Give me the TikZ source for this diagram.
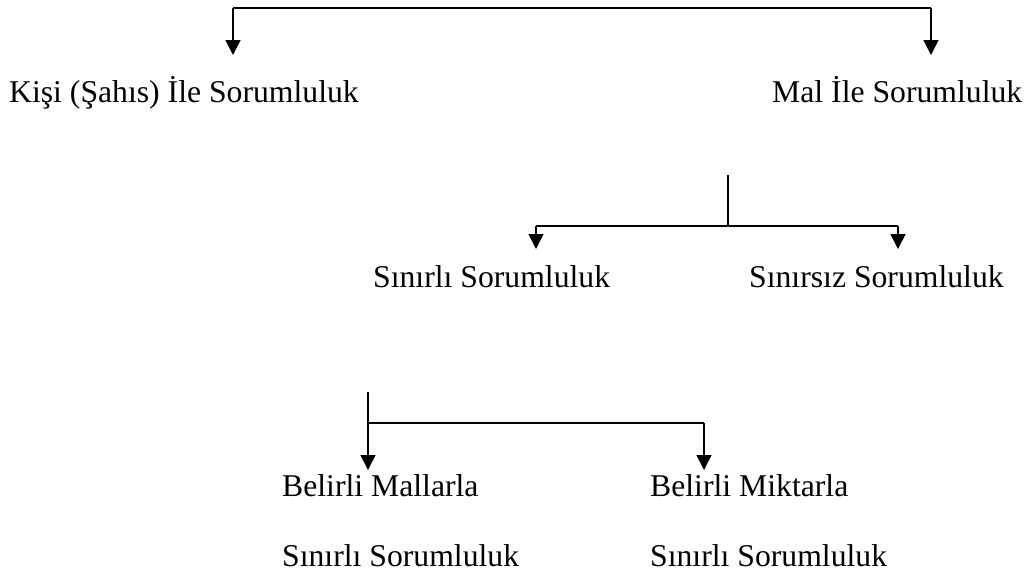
\documentclass[tikz,border=0pt]{standalone}
\usepackage{fontspec}
\setmainfont{Liberation Serif}
\usetikzlibrary{arrows.meta,calc}
\begin{document}
\begin{tikzpicture}[x=1pt,y=-1pt,
  lbl/.style={anchor=base west,inner sep=0pt,font=\fontsize{31.7}{38}\selectfont},
  ln/.style={line width=1.5pt},
  arr/.style={ln,-{Triangle[length=15pt,width=15pt]}}]
\useasboundingbox (0,0) rectangle (1033,579);
% text nodes
\node[lbl] (kisi) at (9,102) {Kişi (Şahıs) İle Sorumluluk};
\node[lbl] (mal) at (772,102) {Mal İle Sorumluluk};
\node[lbl] (sinirli) at (373,287) {Sınırlı Sorumluluk};
\node[lbl] (sinirsiz) at (749,287) {Sınırsız Sorumluluk};
\node[lbl] (mallarla) at (282,496) {Belirli Mallarla};
\node[lbl] (miktarla) at (650,496) {Belirli Miktarla};
\node[lbl] (ss1) at (282,566) {Sınırlı Sorumluluk};
\node[lbl] (ss2) at (650,566) {Sınırlı Sorumluluk};
% junction coordinates
\coordinate (t1) at (233,8);
\coordinate (t2) at (931,8);
\coordinate (m0) at (728,175);
\coordinate (m1) at (728,226);
\coordinate (ml) at (536,226);
\coordinate (mr) at (898,226);
\coordinate (b0) at (368,392);
\coordinate (b1) at (368,423);
\coordinate (br) at (704,423);
% top branch
\draw[ln] (t1) -- (t2);
\draw[arr] (t1) -- ($(t1 |- kisi.base)+(0,-47)$);
\draw[arr] (t2) -- ($(t2 |- mal.base)+(0,-47)$);
% middle branch
\draw[ln] (m0) -- (m1);
\draw[ln] (ml) -- (mr);
\draw[arr] (ml) -- ($(ml |- sinirli.base)+(0,-38)$);
\draw[arr] (mr) -- ($(mr |- sinirsiz.base)+(0,-38)$);
% bottom branch
\draw[ln] (b1) -- (br);
\draw[arr] (b0) -- ($(b0 |- mallarla.base)+(0,-26)$);
\draw[arr] (br) -- ($(br |- miktarla.base)+(0,-26)$);
\end{tikzpicture}
\end{document}
